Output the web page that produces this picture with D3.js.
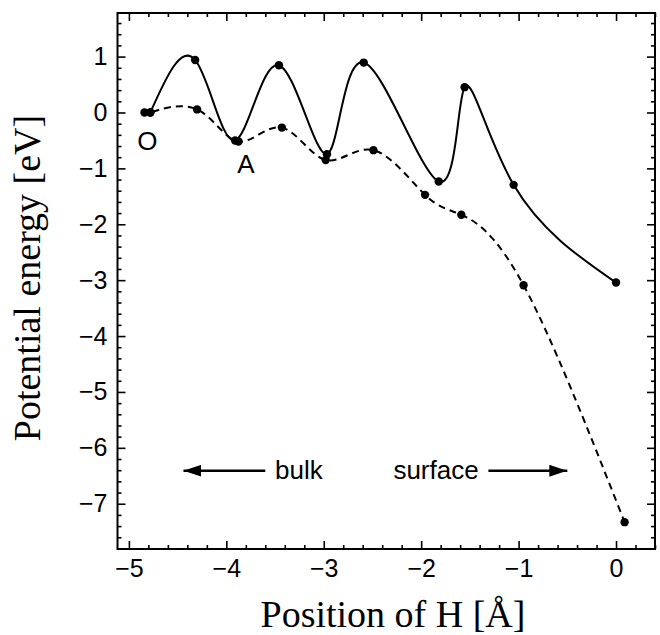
<!DOCTYPE html>
<html>
<head>
<meta charset="utf-8">
<script src="https://cdn.jsdelivr.net/npm/d3@7"></script>
<style>
  body { margin: 0; background: #fff; }
  .tick text { font-family: "Liberation Sans", Arial, sans-serif; font-size: 25px; fill: #000; }
  .tick line { stroke: #000; stroke-width: 1.6; }
  .note { font-family: "Liberation Sans", Arial, sans-serif; font-size: 26px; fill: #000; }
  .title { font-family: "Liberation Serif", "Times New Roman", serif; font-size: 38px; fill: #000; }
</style>
</head>
<body>
<div id="chart"></div>
<script>
// path energies, x in Angstrom, y in eV
var solidX = [-4.78, -4.32, -3.91, -3.46, -2.967, -2.59, -1.82, -1.554, -1.051, 0.0];
var solidY = [0.0, 0.94, -0.50, 0.846, -0.746, 0.893, -1.236, 0.453, -1.295, -3.043];
var dashX = [-4.84, -4.78, -4.30, -3.875, -3.43, -2.98, -2.49, -1.96, -1.588, -0.949, 0.088];
var dashY = [0.0, 0.0, 0.055, -0.52, -0.27, -0.85, -0.674, -1.474, -1.83, -3.09, -7.33];
var xTicks = [-5, -4, -3, -2, -1, 0];
var yTicks = [1, 0, -1, -2, -3, -4, -5, -6, -7];

var width = 660, height = 635;
var margin = {top: 13, right: 5, bottom: 86, left: 117.5};
var w = width - margin.left - margin.right, h = height - margin.top - margin.bottom;

var svg = d3.select('#chart').append('svg').attr('width', width).attr('height', height);
var g = svg.append('g').attr('transform', `translate(${margin.left},${margin.top})`);

var x = d3.scaleLinear().domain([-5.117, 0.40]).range([0, w]);
var y = d3.scaleLinear().domain([-7.81, 1.78]).range([h, 0]);

var xMinor = d3.range(-5.0, 0.41, 0.2).map(d => +d.toFixed(1)).filter(d => xTicks.indexOf(d) < 0);
var yMinor = d3.range(-7.8, 1.79, 0.2).map(d => +d.toFixed(1)).filter(d => yTicks.indexOf(d) < 0);
var fmt = d3.format('d');

// minor ticks, all four sides, pointing inward
g.append('g').attr('transform', `translate(0,${h})`).call(d3.axisBottom(x).tickValues(xMinor).tickSize(-4).tickFormat(''));
g.append('g').call(d3.axisTop(x).tickValues(xMinor).tickSize(-4).tickFormat(''));
g.append('g').call(d3.axisLeft(y).tickValues(yMinor).tickSize(-4).tickFormat(''));
g.append('g').attr('transform', `translate(${w},0)`).call(d3.axisRight(y).tickValues(yMinor).tickSize(-4).tickFormat(''));

// major ticks
g.append('g').attr('transform', `translate(0,${h})`).call(d3.axisBottom(x).tickValues(xTicks).tickSize(-8).tickPadding(10).tickFormat(fmt));
g.append('g').call(d3.axisTop(x).tickValues(xTicks).tickSize(-8).tickFormat(''));
g.append('g').call(d3.axisLeft(y).tickValues(yTicks).tickSize(-8).tickPadding(10).tickFormat(fmt));
g.append('g').attr('transform', `translate(${w},0)`).call(d3.axisRight(y).tickValues(yTicks).tickSize(-8).tickFormat(''));

g.selectAll('.domain').remove();
g.selectAll('.tick text').attr('fill', '#000');

g.append('rect').attr('width', w).attr('height', h).attr('fill', 'none').attr('stroke', '#000').attr('stroke-width', 2);

var solid = solidX.map((d, i) => [d, solidY[i]]);
var dashed = dashX.map((d, i) => [d, dashY[i]]);

var line = d3.line().x(d => x(d[0])).y(d => y(d[1])).curve(d3.curveNatural);

g.append('path').attr('d', line(dashed)).attr('fill', 'none').attr('stroke', '#000')
  .attr('stroke-width', 2).attr('stroke-dasharray', '7,5');
g.append('path').attr('d', line(solid)).attr('fill', 'none').attr('stroke', '#000').attr('stroke-width', 2);

g.selectAll('.dotS').data(solid).enter().append('circle')
  .attr('cx', d => x(d[0])).attr('cy', d => y(d[1])).attr('r', 4.2).attr('fill', '#000');
g.selectAll('.dotD').data(dashed).enter().append('circle')
  .attr('cx', d => x(d[0])).attr('cy', d => y(d[1])).attr('r', 4.2).attr('fill', '#000');

// labels O and A
g.append('text').attr('class', 'note').attr('x', x(-4.81)).attr('y', y(-0.67)).attr('text-anchor', 'middle').text('O');
g.append('text').attr('class', 'note').attr('x', x(-3.80)).attr('y', y(-1.08)).attr('text-anchor', 'middle').text('A');

// bulk / surface arrows
svg.append('defs').append('marker').attr('id', 'head').attr('viewBox', '0 0 18 12')
  .attr('refX', 18).attr('refY', 6).attr('markerWidth', 18).attr('markerHeight', 12)
  .attr('markerUnits', 'userSpaceOnUse').attr('orient', 'auto')
  .append('path').attr('d', 'M0,0L18,6L0,12Z').attr('fill', '#000');

var ay = y(-6.41);
g.append('line').attr('x1', x(-3.60)).attr('x2', x(-4.44)).attr('y1', ay).attr('y2', ay)
  .attr('stroke', '#000').attr('stroke-width', 2.5).attr('marker-end', 'url(#head)');
g.append('text').attr('class', 'note').attr('x', x(-3.50)).attr('y', ay + 8.5).text('bulk');

g.append('line').attr('x1', x(-1.31)).attr('x2', x(-0.50)).attr('y1', ay).attr('y2', ay)
  .attr('stroke', '#000').attr('stroke-width', 2.5).attr('marker-end', 'url(#head)');
g.append('text').attr('class', 'note').attr('x', x(-1.41)).attr('y', ay + 8.5).attr('text-anchor', 'end').text('surface');

// axis titles
svg.append('text').attr('class', 'title').attr('text-anchor', 'middle')
  .attr('transform', 'translate(40,278)rotate(-90)').text('Potential energy [eV]');
svg.append('text').attr('class', 'title').attr('text-anchor', 'middle')
  .attr('x', 393).attr('y', 627).text('Position of H [Å]');
</script>
</body>
</html>
